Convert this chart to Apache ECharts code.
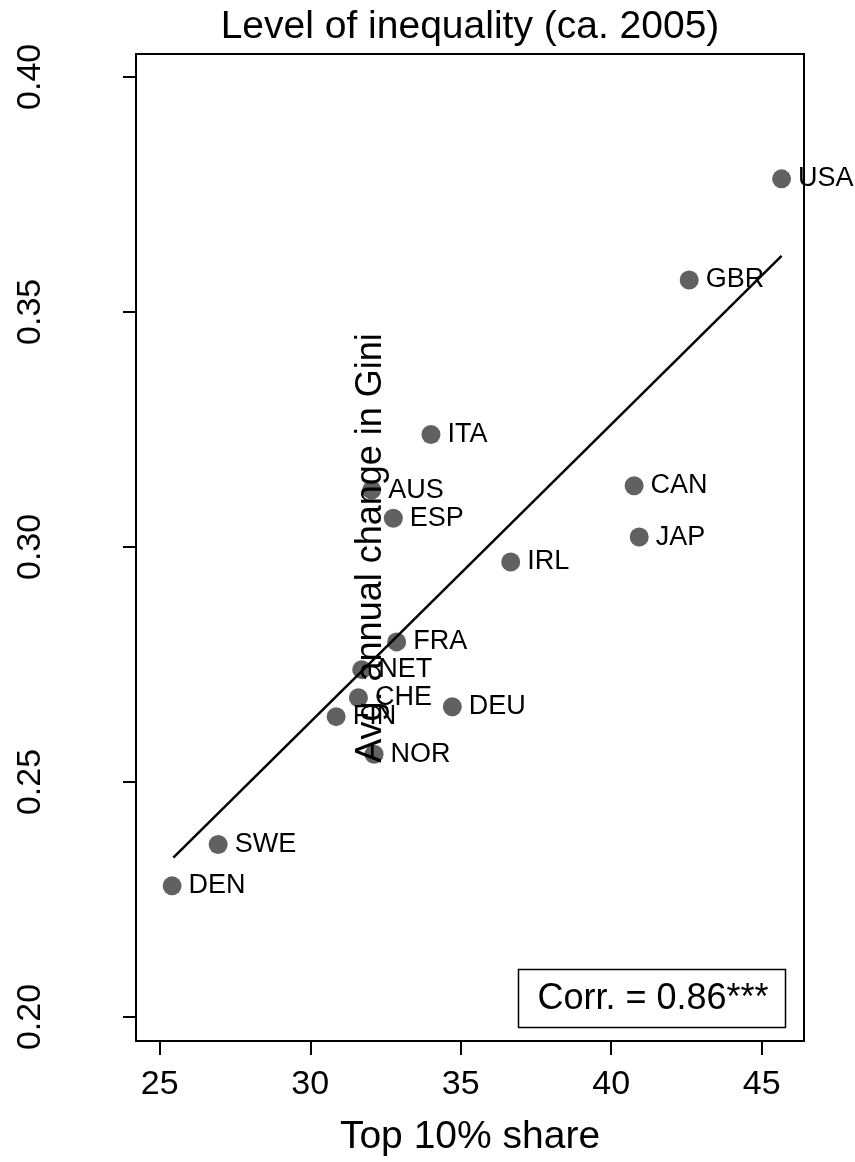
<!DOCTYPE html>
<html>
<head>
<meta charset="utf-8">
<script src="https://cdn.jsdelivr.net/npm/echarts@6/dist/echarts.min.js"></script>
<style>html,body{margin:0;padding:0;background:#fff}#c{width:855px;height:1162px}</style>
</head>
<body>
<div id="c"></div>
<script>
var countries = ['USA','GBR','ITA','AUS','ESP','CAN','JAP','IRL','FRA','NET','CHE','FIN','DEU','NOR','SWE','DEN'];
var top10 = [45.66, 42.59, 34.01, 32.04, 32.76, 40.76, 40.93, 36.66, 32.87, 31.71, 31.60, 30.86, 34.72, 32.12, 26.94, 25.41];
var gini = [0.3783, 0.3568, 0.3239, 0.3121, 0.3061, 0.3130, 0.3021, 0.2968, 0.2798, 0.2739, 0.2679, 0.2639, 0.2660, 0.2559, 0.2367, 0.2279];
var fitX = [25.45, 45.66];
var fitY = [0.2339, 0.3619];
var xTicks = [25, 30, 35, 40, 45];
var yTicks = [0.20, 0.25, 0.30, 0.35, 0.40];
var titleText = 'Level of inequality (ca. 2005)';
var xTitle = 'Top 10% share';
var yTitle = 'Avg. annual change in Gini';
var corrText = 'Corr. = 0.86***';

var FONT = 'Liberation Sans, Arial, sans-serif';
var chart = echarts.init(document.getElementById('c'), null, {renderer: 'canvas'});
var pts = countries.map(function (c, i) { return {name: c, value: [top10[i], gini[i]]}; });
var fit = fitX.map(function (x, i) { return [x, fitY[i]]; });

chart.setOption({
  animation: false,
  backgroundColor: '#fff',
  grid: {left: 136, right: 51, top: 54, bottom: 114, show: true, borderColor: '#000', borderWidth: 2, backgroundColor: 'transparent'},
  xAxis: {
    type: 'value', min: 24.21, max: 46.405,
    axisLine: {show: true, lineStyle: {color: '#000', width: 2}},
    axisTick: {show: true, length: 14, lineStyle: {color: '#000', width: 2}, customValues: xTicks},
    axisLabel: {color: '#000', fontSize: 34, fontFamily: FONT, margin: 27, customValues: xTicks},
    splitLine: {show: false},
    name: xTitle, nameLocation: 'middle', nameGap: 77,
    nameTextStyle: {color: '#000', fontSize: 39, fontFamily: FONT}
  },
  yAxis: {
    type: 'value', min: 0.1949, max: 0.40486,
    axisLine: {show: true, lineStyle: {color: '#000', width: 2}},
    axisTick: {show: true, length: 13, lineStyle: {color: '#000', width: 2}, customValues: yTicks},
    axisLabel: {color: '#000', fontSize: 34, fontFamily: FONT, margin: 88, rotate: 90, customValues: yTicks,
      formatter: function (v) { return v.toFixed(2); }},
    splitLine: {show: false}
  },
  series: [
    {
      type: 'scatter', data: pts, symbol: 'circle', symbolSize: 19,
      itemStyle: {color: '#616161', opacity: 1},
      label: {show: true, position: 'right', distance: 7, formatter: '{b}', color: '#000', fontSize: 27, fontFamily: FONT},
      z: 2
    },
    {
      type: 'line', data: fit, showSymbol: false, symbol: 'none',
      lineStyle: {color: '#000', width: 2.5}, z: 3, silent: true
    }
  ],
  graphic: [
    {type: 'text', z: 10, x: 470, y: 27,
      style: {text: titleText, x: 0, y: 0, align: 'center', verticalAlign: 'middle', fontSize: 39, fontFamily: FONT, fill: '#000'}},
    {type: 'text', z: 10, x: 371, y: 548, rotation: Math.PI / 2,
      style: {text: yTitle, x: 0, y: 0, align: 'center', verticalAlign: 'middle', fontSize: 36, fontFamily: FONT, fill: '#000'}},
    {type: 'rect', z: 10, shape: {x: 518.5, y: 969.5, width: 267, height: 58},
      style: {fill: '#fff', stroke: '#000', lineWidth: 1.5}},
    {type: 'text', z: 11, x: 653, y: 999,
      style: {text: corrText, x: 0, y: 0, align: 'center', verticalAlign: 'middle', fontSize: 36, fontFamily: FONT, fill: '#000'}}
  ]
});
</script>
</body>
</html>
